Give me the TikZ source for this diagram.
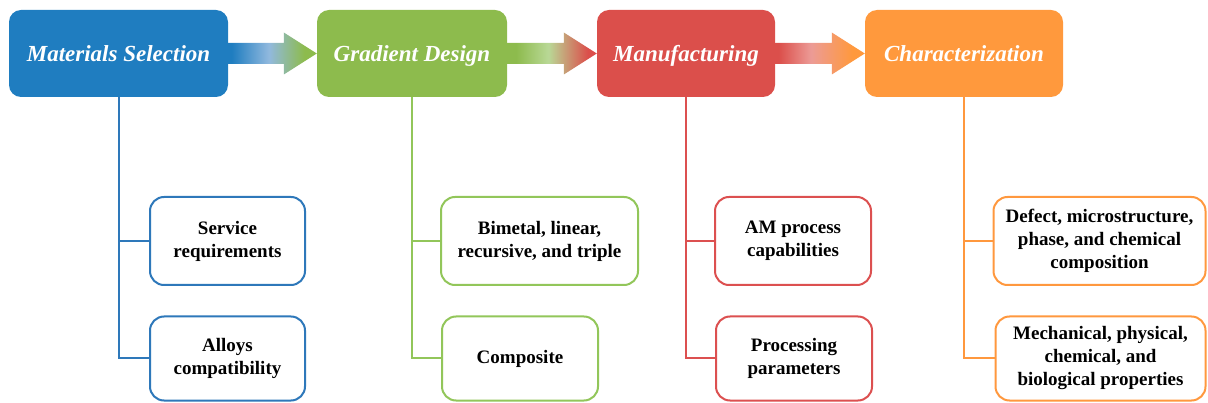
\documentclass[tikz,border=0pt]{standalone}
\usepackage{fontspec}
\setmainfont{Liberation Serif}
\usetikzlibrary{calc}
\definecolor{cblue}{RGB}{31,125,192}
\definecolor{cgreen}{RGB}{141,187,77}
\definecolor{cred}{RGB}{219,79,75}
\definecolor{corange}{RGB}{255,153,61}
\definecolor{lblue}{RGB}{145,185,222}
\definecolor{lgreen}{RGB}{185,216,150}
\definecolor{lred}{RGB}{236,155,150}
\definecolor{bblue}{RGB}{46,120,186}
\definecolor{bgreen}{RGB}{146,198,90}
\definecolor{bred}{RGB}{220,80,80}
\definecolor{borange}{RGB}{255,152,62}
\pgfdeclarehorizontalshading{arrowA}{100bp}{color(0bp)=(cblue); color(27bp)=(cblue); color(48bp)=(lblue); color(68bp)=(cgreen); color(100bp)=(cgreen)}
\pgfdeclarehorizontalshading{arrowB}{100bp}{color(0bp)=(cgreen); color(30bp)=(cgreen); color(48bp)=(lgreen); color(70bp)=(cred); color(100bp)=(cred)}
\pgfdeclarehorizontalshading{arrowC}{100bp}{color(0bp)=(cred); color(27bp)=(cred); color(45bp)=(lred); color(68bp)=(corange); color(100bp)=(corange)}
\tikzset{
  topbox/.style={rectangle, rounded corners=12pt, minimum height=87pt, inner sep=0pt,
    text height=17.5pt, text depth=2pt,
    text=white, font=\fontsize{23}{27}\selectfont\bfseries\itshape},
  subbox/.style={rectangle, rounded corners=14pt, draw, line width=2pt, fill=white,
    inner sep=0pt, align=center, text=black, font=\fontsize{19}{23}\selectfont\bfseries},
  link/.style={line width=2pt}
}
\begin{document}
\begin{tikzpicture}[x=1pt,y=-1pt]
\useasboundingbox (0,0) rectangle (1208,403);
% top boxes
\node[topbox, fill=cblue, minimum width=219pt] (ms) at (118.5,53.5) {Materials Selection};
\node[topbox, fill=cgreen, minimum width=190pt] (gd) at (412,53.5) {Gradient Design};
\node[topbox, fill=cred, minimum width=178pt] (mf) at (686,53.5) {Manufacturing};
\node[topbox, fill=corange, minimum width=198pt] (ch) at (964,53.5) {Characterization};
% arrows
\shade[shading=arrowA]
  ([yshift=10.5pt]ms.east) -- ([xshift=-33pt,yshift=10.5pt]gd.west) -- ([xshift=-33pt,yshift=21pt]gd.west)
  -- (gd.west) -- ([xshift=-33pt,yshift=-21pt]gd.west) -- ([xshift=-33pt,yshift=-10.5pt]gd.west)
  -- ([yshift=-10.5pt]ms.east) -- cycle;
\shade[shading=arrowB]
  ([yshift=10.5pt]gd.east) -- ([xshift=-33pt,yshift=10.5pt]mf.west) -- ([xshift=-33pt,yshift=21pt]mf.west)
  -- (mf.west) -- ([xshift=-33pt,yshift=-21pt]mf.west) -- ([xshift=-33pt,yshift=-10.5pt]mf.west)
  -- ([yshift=-10.5pt]gd.east) -- cycle;
\shade[shading=arrowC]
  ([yshift=10.5pt]mf.east) -- ([xshift=-33pt,yshift=10.5pt]ch.west) -- ([xshift=-33pt,yshift=21pt]ch.west)
  -- (ch.west) -- ([xshift=-33pt,yshift=-21pt]ch.west) -- ([xshift=-33pt,yshift=-10.5pt]ch.west)
  -- ([yshift=-10.5pt]mf.east) -- cycle;
% sub boxes
\node[subbox, draw=bblue, minimum width=155pt, minimum height=88pt] (s1) at (227.5,241) {Service\\requirements};
\node[subbox, draw=bblue, minimum width=155pt, minimum height=84pt] (s2) at (227.5,358.5) {Alloys\\compatibility};
\node[subbox, draw=bgreen, minimum width=197pt, minimum height=88pt] (g1) at (539.5,241) {Bimetal, linear,\\recursive, and triple};
\node[subbox, draw=bgreen, minimum width=156pt, minimum height=84pt] (g2) at (520,358.5) {Composite};
\node[subbox, draw=bred, minimum width=156pt, minimum height=88pt] (r1) at (793,241) {AM process\\capabilities};
\node[subbox, draw=bred, minimum width=156pt, minimum height=84pt] (r2) at (794,358.5) {Processing\\parameters};
\node[subbox, draw=borange, minimum width=212pt, minimum height=88pt] (c1) at (1099.5,241) {Defect, microstructure,\\phase, and chemical\\composition};
\node[subbox, draw=borange, minimum width=210pt, minimum height=84pt] (c2) at (1100.5,358.5) {Mechanical, physical,\\chemical, and\\biological properties};
% connectors
\draw[link, bblue] (ms.south) |- (s1.west);
\draw[link, bblue] (ms.south) |- (s2.west);
\draw[link, bgreen] (gd.south) |- (g1.west);
\draw[link, bgreen] (gd.south) |- (g2.west);
\draw[link, bred] (mf.south) |- (r1.west);
\draw[link, bred] (mf.south) |- (r2.west);
\draw[link, borange] (ch.south) |- (c1.west);
\draw[link, borange] (ch.south) |- (c2.west);
\end{tikzpicture}
\end{document}
